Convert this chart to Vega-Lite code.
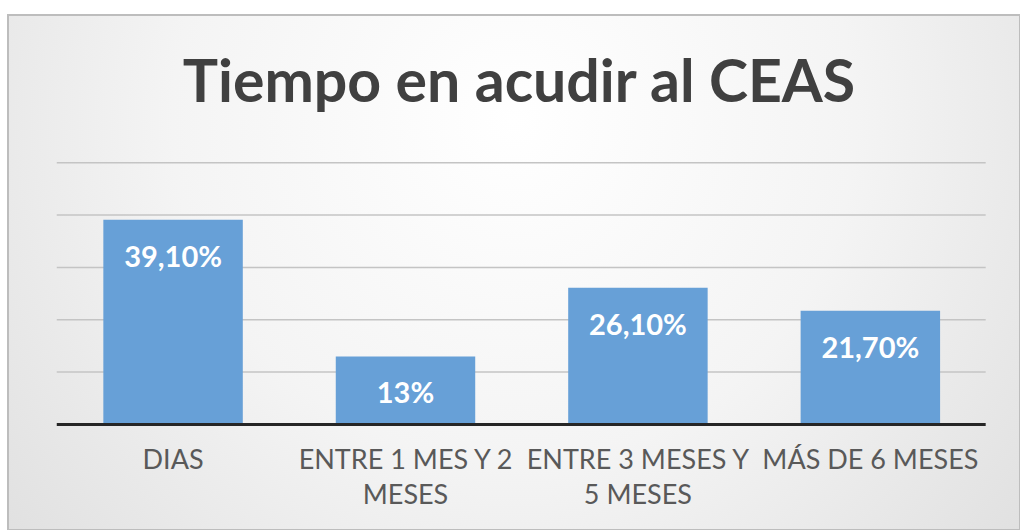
{
  "$schema": "https://vega.github.io/schema/vega-lite/v6.json",
  "width": 1012,
  "height": 515,
  "autosize": {"type": "none"},
  "padding": {"left": 8, "top": 15, "right": 0, "bottom": 0},
  "background": "#ffffff",
  "view": {
    "fill": {"gradient": "radial", "x1": 0.5, "y1": 0.35, "r1": 0, "x2": 0.5, "y2": 0.35, "r2": 0.75,
      "stops": [{"offset": 0, "color": "#ffffff"}, {"offset": 0.45, "color": "#f4f4f4"}, {"offset": 1, "color": "#dadada"}]},
    "stroke": "#bdbdbd",
    "strokeWidth": 2
  },
  "title": {
    "text": "Tiempo en acudir al CEAS",
    "orient": "top",
    "anchor": "middle",
    "frame": "group",
    "offset": -146,
    "dx": 5,
    "baseline": "alphabetic",
    "font": "Lato",
    "fontSize": 59,
    "fontWeight": "bold",
    "color": "#404040"
  },
  "datasets": {
    "bars": [
      {"categoria": "DIAS", "valor": 39.1, "etiqueta": "39,10%"},
      {"categoria": "ENTRE 1 MES Y 2 MESES", "valor": 13, "etiqueta": "13%"},
      {"categoria": "ENTRE 3 MESES Y 5 MESES", "valor": 26.1, "etiqueta": "26,10%"},
      {"categoria": "MÁS DE 6 MESES", "valor": 21.7, "etiqueta": "21,70%"}
    ],
    "grid": [{"v": 10}, {"v": 20}, {"v": 30}, {"v": 40}, {"v": 50}]
  },
  "layer": [
    {
      "data": {"name": "grid"},
      "mark": {"type": "rule", "color": "#c4c4c4", "strokeWidth": 1.5},
      "encoding": {
        "y": {"field": "v", "type": "quantitative", "scale": {"domain": [-20.15, 78.2], "nice": false, "zero": false}, "axis": null},
        "x": {"datum": "DIAS", "type": "nominal", "bandPosition": -0.334},
        "x2": {"datum": "MÁS DE 6 MESES", "bandPosition": 1.327}
      }
    },
    {
      "data": {"name": "bars"},
      "mark": {"type": "bar", "color": "#67a0d7"},
      "encoding": {
        "x": {
          "field": "categoria", "type": "nominal", "sort": null,
          "scale": {"domain": ["DIAS", "ENTRE 1 MES Y 2 MESES", "ENTRE 3 MESES Y 5 MESES", "MÁS DE 6 MESES"], "paddingInner": 0.4, "paddingOuter": 0.377, "align": 0.544},
          "axis": {
            "title": null, "orient": "bottom", "offset": -105.5, "domain": false, "ticks": false, "grid": false,
            "labelAngle": 0, "labelAlign": "center", "labelFont": "Lato", "labelFontSize": 27, "labelColor": "#595959",
            "labelPadding": 36, "labelLineHeight": 35, "labelLimit": 0,
            "labelExpr": "datum.value == 'ENTRE 1 MES Y 2 MESES' ? ['ENTRE 1 MES Y 2', 'MESES'] : datum.value == 'ENTRE 3 MESES Y 5 MESES' ? ['ENTRE 3 MESES Y', '5 MESES'] : datum.value"
          }
        },
        "y": {"field": "valor", "type": "quantitative", "axis": null},
        "y2": {"datum": 0}
      }
    },
    {
      "data": {"name": "bars"},
      "mark": {"type": "text", "color": "#ffffff", "font": "Lato", "fontSize": 29, "fontWeight": "bold", "baseline": "middle", "dy": 38},
      "encoding": {
        "x": {"field": "categoria", "type": "nominal", "sort": null},
        "y": {"field": "valor", "type": "quantitative"},
        "text": {"field": "etiqueta"}
      }
    },
    {
      "data": {"values": [{"z": 0}]},
      "mark": {"type": "rule", "color": "#262626", "strokeWidth": 3},
      "encoding": {
        "y": {"field": "z", "type": "quantitative"},
        "x": {"datum": "DIAS", "type": "nominal", "bandPosition": -0.334},
        "x2": {"datum": "MÁS DE 6 MESES", "bandPosition": 1.327}
      }
    }
  ]
}
